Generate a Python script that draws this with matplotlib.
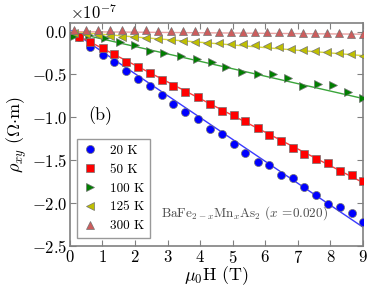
import matplotlib
matplotlib.use("Agg")
import matplotlib.pyplot as plt
import numpy as np

plt.rcParams["font.family"] = "serif"
plt.rcParams["font.serif"] = ["cmr10", "DejaVu Serif"]
plt.rcParams["mathtext.fontset"] = "cm"
plt.rcParams["axes.formatter.use_mathtext"] = True
plt.rcParams["axes.unicode_minus"] = True

# field values (T)
H_a = [0.28, 0.62, 1.02, 1.36, 1.73, 2.10, 2.47, 2.84, 3.18, 3.55, 3.92, 4.29, 4.66,
       5.03, 5.37, 5.77, 6.11, 6.48, 6.85, 7.19, 7.56, 7.93, 8.30, 8.67, 9.0]
H_b = [0.12, 0.59, 1.08, 1.54, 2.01, 2.47, 2.90, 3.40, 3.89, 4.35, 4.81, 5.28, 5.77,
       6.24, 6.70, 7.16, 7.62, 8.09, 8.55, 9.0]
H_c = [0.12, 0.49, 0.86, 1.23, 1.60, 1.97, 2.34, 2.72, 3.09, 3.46, 3.83, 4.20, 4.57,
       4.94, 5.31, 5.68, 6.05, 6.42, 6.79, 7.16, 7.53, 7.90, 8.27, 8.64, 9.0]

# rho_xy in units of 1e-7 Ohm m
rho_20 = [-0.06, -0.18, -0.27, -0.36, -0.46, -0.55, -0.64, -0.74, -0.85, -0.94, -1.02, -1.14, -1.19,
          -1.31, -1.42, -1.52, -1.56, -1.67, -1.71, -1.81, -1.91, -2.01, -2.05, -2.12, -2.22]
rho_50 = [-0.06, -0.12, -0.19, -0.26, -0.35, -0.41, -0.48, -0.56, -0.64, -0.71, -0.76, -0.85, -0.93,
          -0.97, -1.04, -1.13, -1.21, -1.28, -1.36, -1.43, -1.48, -1.53, -1.62, -1.67, -1.74]
rho_100 = [-0.05, -0.04, -0.08, -0.12, -0.16, -0.23, -0.25, -0.28, -0.32, -0.36, -0.41, -0.47, -0.49,
           -0.50, -0.54, -0.63, -0.61, -0.62, -0.70, -0.77]
rho_125 = [-0.02, -0.03, -0.04, -0.05, -0.06, -0.06, -0.08, -0.09, -0.10, -0.11, -0.12, -0.13, -0.13,
           -0.14, -0.15, -0.16, -0.17, -0.18, -0.20, -0.22, -0.23, -0.24, -0.25, -0.26, -0.28]
rho_300 = [0.02, 0.02, 0.02, 0.02, 0.02, 0.02, 0.02, 0.01, 0.01, 0.01, 0.01, 0.01, 0.0,
           0.0, 0.0, -0.01, -0.01, -0.01, -0.01, -0.02, -0.02, -0.02, -0.02, -0.03, -0.03]

# linear fits, read as end points at 0 T and 9 T
fit_H = [0, 9]
fit_20 = [0.02, -2.28]
fit_50 = [0.0, -1.76]
fit_100 = [0.0, -0.78]
fit_125 = [0.0, -0.28]
fit_300 = [0.0, -0.03]

labels = ["20 K", "50 K", "100 K", "125 K", "300 K"]
fields = [H_a, H_a, H_b, H_c, H_c]
series = [rho_20, rho_50, rho_100, rho_125, rho_300]
fits = [fit_20, fit_50, fit_100, fit_125, fit_300]
markers = ["o", "s", ">", "<", "^"]
colors = ["#0000ff", "#ff0000", "#007f00", "#bfbf00", "#cd5c5c"]
line_colors = ["#3a3aff", "#ff3a3a", "#3aa53a", "#d6d63a", "#e8a0a0"]

fig = plt.figure(figsize=(3.82, 2.88), dpi=100)
ax = fig.add_axes([0.183, 0.146, 0.767, 0.774])

for H, rho, fit, m, c, lc, lab in zip(fields, series, fits, markers, colors, line_colors, labels):
    ax.plot(fit_H, np.array(fit) * 1e-7, color=lc, lw=1.0, zorder=2)
    ax.plot(H, np.array(rho) * 1e-7, ls="none", marker=m, color=c, ms=5.8,
            mec="0.45", mew=0.5, label=lab, zorder=3)

ax.set_xlim(0, 9)
ax.set_ylim(-2.5e-7, 0.1e-7)
ax.set_xticks(range(10))
ax.set_yticks(np.arange(-2.5, 0.01, 0.5) * 1e-7)

for s in ax.spines.values():
    s.set_color("0.5")
    s.set_linewidth(1.2)
ax.tick_params(direction="in", top=True, right=True, length=4, color="0.5",
               labelsize=12, pad=2)
ax.yaxis.get_offset_text().set_fontsize(12)

ax.set_xlabel(r"$\mu_0$H (T)", fontsize=13)
ax.xaxis.set_label_coords(0.5, -0.082)
ax.set_ylabel(r"$\rho_{xy}$ $(\Omega{\cdot}\mathrm{m})$", fontsize=13, labelpad=2)

ax.text(0.55, -0.98e-7, "(b)", fontsize=13, ha="left", va="center")
ax.text(2.8, -2.12e-7, r"BaFe$_{2-x}$Mn$_x$As$_2$ ($x$ =0.020)", fontsize=9.5,
        color="0.3", ha="left", va="center")

leg = ax.legend(loc="lower left", bbox_to_anchor=(0.025, 0.035), numpoints=1,
                fontsize=9.5, borderaxespad=0, handletextpad=0.9, labelspacing=0.5,
                fancybox=False, handlelength=1.1, borderpad=0.45)
leg.get_frame().set_edgecolor("0.5")
leg.get_frame().set_linewidth(1.0)

fig.savefig("out.png", dpi=100)
